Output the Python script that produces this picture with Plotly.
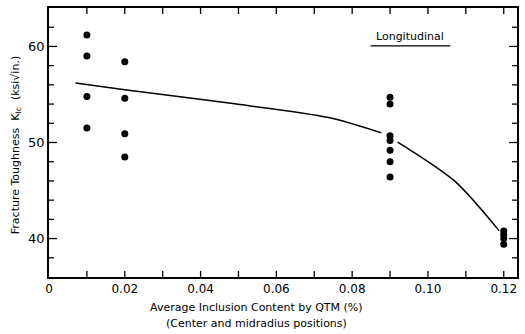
import plotly.graph_objects as go

# Data
x_pts = [0.01, 0.01, 0.01, 0.01,
         0.02, 0.02, 0.02, 0.02,
         0.09, 0.09, 0.09, 0.09, 0.09, 0.09, 0.09,
         0.12, 0.12, 0.12, 0.12]
y_pts = [61.2, 59.0, 54.8, 51.5,
         58.4, 54.6, 50.9, 48.5,
         54.7, 54.0, 50.7, 50.2, 49.2, 48.0, 46.4,
         40.8, 40.4, 40.0, 39.4]

x_fit = [0.007, 0.02, 0.0475, 0.0738, 0.0877, None, 0.092, 0.107, 0.1188]
y_fit = [56.2, 55.5, 54.1, 52.6, 51.0, None, 50.05, 46.0, 40.8]

# Axis ticks
x_tick_labels_at = [0, 0.02, 0.04, 0.06, 0.08, 0.10, 0.12]
x_tick_labels = ["0", "0.02", "0.04", "0.06", "0.08", "0.10", "0.12"]
x_tick_marks = [0.01, 0.02, 0.03, 0.04, 0.05, 0.06, 0.07, 0.08, 0.09, 0.10, 0.11, 0.12]
y_tick_labels_at = [40, 50, 60]
y_major_marks = [40, 50, 60]
y_minor_marks = [38, 42, 44, 46, 48, 52, 54, 56, 58, 62]

X_RANGE = [0, 0.1235]
Y_RANGE = [36, 64]
PLOT_W, PLOT_H = 470, 270          # plot area in pixels
FONT = "DejaVu Sans"

# convert tick lengths in pixels to data units
px_x = (X_RANGE[1] - X_RANGE[0]) / PLOT_W
px_y = (Y_RANGE[1] - Y_RANGE[0]) / PLOT_H

tick_x, tick_y = [], []
for xv in x_tick_marks:           # bottom and top ticks, 6 px inward
    tick_x += [xv, xv, None, xv, xv, None]
    tick_y += [Y_RANGE[0], Y_RANGE[0] + 6 * px_y, None,
               Y_RANGE[1], Y_RANGE[1] - 6 * px_y, None]
for marks, ln in ((y_minor_marks, 5), (y_major_marks, 8)):   # left and right ticks
    for yv in marks:
        tick_x += [X_RANGE[0], X_RANGE[0] + ln * px_x, None,
                   X_RANGE[1], X_RANGE[1] - ln * px_x, None]
        tick_y += [yv, yv, None, yv, yv, None]

fig = go.Figure()
fig.add_trace(go.Scatter(x=tick_x, y=tick_y, mode="lines", connectgaps=False,
                         line=dict(color="black", width=1.3),
                         showlegend=False, hoverinfo="skip"))
fig.add_trace(go.Scatter(x=x_fit, y=y_fit, mode="lines",
                         line=dict(color="black", width=1.5, shape="spline", smoothing=0.8),
                         connectgaps=False, showlegend=False, hoverinfo="skip"))
fig.add_trace(go.Scatter(x=x_pts, y=y_pts, mode="markers",
                         marker=dict(color="black", size=7),
                         showlegend=False))

fig.update_layout(
    width=525, height=334,
    margin=dict(l=49, r=6, t=7, b=57),
    paper_bgcolor="white", plot_bgcolor="white",
    font=dict(family=FONT, color="black", size=12),
)
fig.update_xaxes(range=X_RANGE, tickmode="array", tickvals=x_tick_labels_at,
                 ticktext=x_tick_labels, ticks="",
                 showline=True, linecolor="black", linewidth=1.5, mirror=True,
                 showgrid=False, zeroline=False, tickfont=dict(size=12, family=FONT))
fig.update_yaxes(range=Y_RANGE, tickmode="array", tickvals=y_tick_labels_at, ticks="",
                 showline=True, linecolor="black", linewidth=1.5, mirror=True,
                 showgrid=False, zeroline=False, tickfont=dict(size=13, family=FONT))

# X-axis title (two lines)
fig.add_annotation(text="Average Inclusion Content by QTM (%)",
                   xref="paper", yref="paper", x=(257 - 49) / 470, y=0, yshift=-30,
                   xanchor="center", yanchor="middle",
                   showarrow=False, font=dict(size=11, family=FONT))
fig.add_annotation(text="(Center and midradius positions)",
                   xref="paper", yref="paper", x=(257 - 49) / 470, y=0, yshift=-46,
                   xanchor="center", yanchor="middle",
                   showarrow=False, font=dict(size=11, family=FONT))
# Y-axis title
fig.add_annotation(text="Fracture Toughness  K<sub>Ic</sub>  (ksi√in.)",
                   xref="paper", yref="paper", x=0, xshift=-33, y=0.49,
                   xanchor="center", yanchor="middle",
                   textangle=-90, showarrow=False, font=dict(size=11, family=FONT))
# Label
fig.add_annotation(text="Longitudinal", xref="paper", yref="paper",
                   x=(412 - 49) / 470, y=1 - (36 - 7) / 270,
                   xanchor="center", yanchor="middle",
                   showarrow=False, font=dict(size=11, family=FONT))
fig.add_shape(type="line", xref="paper", yref="paper",
              x0=(372 - 49) / 470, x1=(452 - 49) / 470,
              y0=1 - (45 - 7) / 270, y1=1 - (45 - 7) / 270,
              line=dict(color="black", width=1.2))

fig.write_html("out.html")
